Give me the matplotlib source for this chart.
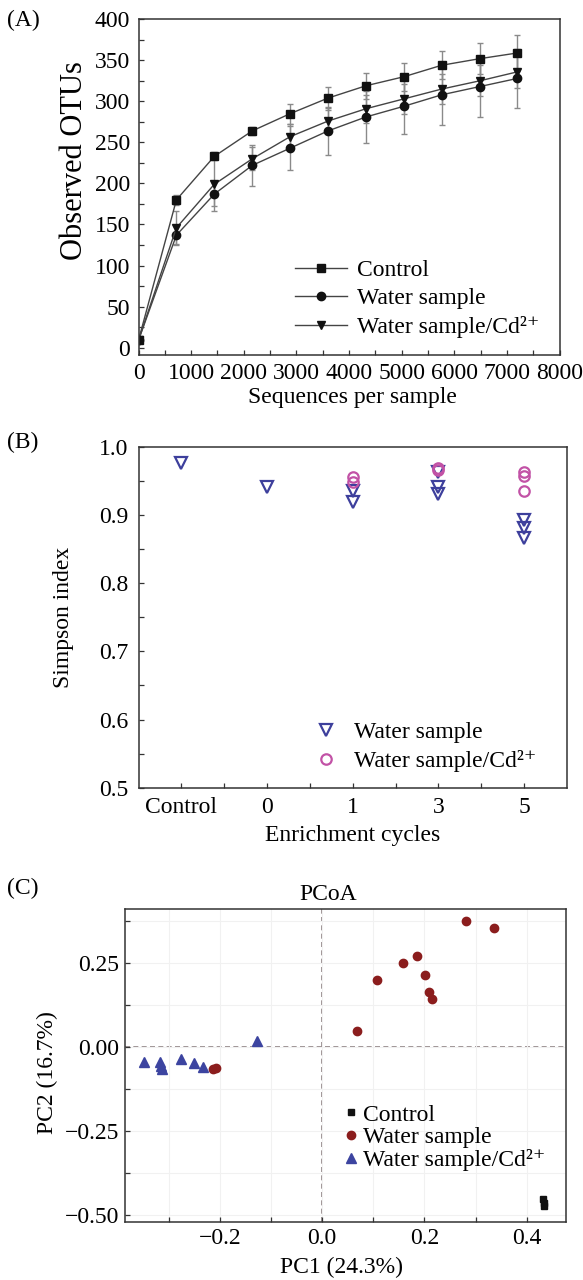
import matplotlib
matplotlib.use('Agg')
import matplotlib.pyplot as plt
import numpy as np
from matplotlib.ticker import MultipleLocator

plt.rcParams['font.family'] = ['Liberation Serif', 'DejaVu Serif']
plt.rcParams['font.size'] = 17

# ---- (A) rarefaction curves
seqs = [0, 720, 1440, 2160, 2880, 3600, 4320, 5040, 5760, 6480, 7200]
otu_control = [9, 180, 233, 264, 285, 304, 319, 330, 344, 352, 359]
otu_water = [9, 137, 187, 222, 243, 264, 281, 294, 308, 318, 328]
otu_cd = [9, 146, 199, 230, 257, 276, 291, 303, 315, 325, 336]
err_control = [2, 6, 5, 5, 12, 14, 16, 17, 17, 19, 22]
err_water = [2, 11, 15, 25, 27, 29, 32, 34, 37, 37, 36]
err_cd = [2, 21, 32, 14, 16, 16, 17, 18, 18, 19, 20]

# ---- (B) Simpson index
cycles = ['Control', '0', '1', '3', '5']
simp_water_pos = [0, 1, 2, 2, 3, 3, 3, 4, 4, 4]
simp_water = [0.977, 0.941, 0.936, 0.919, 0.964, 0.941, 0.931, 0.893, 0.881, 0.866]
simp_cd_pos = [2, 2, 3, 3, 4, 4, 4]
simp_cd = [0.956, 0.948, 0.969, 0.966, 0.963, 0.958, 0.936]

# ---- (C) PCoA
pc_control_x = [0.432, 0.433, 0.434]
pc_control_y = [-0.454, -0.463, -0.473]
pc_water_x = [0.281, 0.335, 0.186, 0.159, 0.107, 0.201, 0.208, 0.214, 0.069, -0.214, -0.208]
pc_water_y = [0.374, 0.354, 0.272, 0.251, 0.201, 0.213, 0.164, 0.144, 0.047, -0.066, -0.062]
pc_cd_x = [-0.347, -0.316, -0.314, -0.313, -0.275, -0.250, -0.232, -0.127]
pc_cd_y = [-0.044, -0.044, -0.056, -0.066, -0.037, -0.048, -0.060, 0.017]

sup = 'Water sample/Cd\u00b2\u207a'
W, H = 583, 1280
fig = plt.figure(figsize=(W / 100, H / 100), dpi=100)


def box(l, r, t, b):
    return [l / W, 1 - b / H, (r - l) / W, (b - t) / H]


def style(ax):
    for s in ax.spines.values():
        s.set_color('#333333')
        s.set_linewidth(1.1)
    ax.tick_params(which='both', direction='in', top=False, right=False,
                   length=3.5, width=0.9, color='#333333')


# ================= A
ax = fig.add_axes(box(138.5, 559.6, 19.3, 355))
style(ax)
ax.tick_params(which='both', pad=6)
for y, e, m, lab in [(otu_control, err_control, 's', 'Control'),
                     (otu_water, err_water, 'o', 'Water sample'),
                     (otu_cd, err_cd, 'v', sup)]:
    ax.errorbar(seqs, y, yerr=e, fmt='none', ecolor='#8a8a8a', elinewidth=1.0,
                capsize=2.5, zorder=1)
    ax.plot(seqs, y, color='#444444', lw=1.0, marker=m, ms=6, mfc='#111111',
            mec='#111111', label=lab, zorder=2)
ax.set_xlim(0, 8000)
ax.set_ylim(-9, 400)
ax.xaxis.set_major_locator(MultipleLocator(1000))
ax.xaxis.set_minor_locator(MultipleLocator(500))
ax.yaxis.set_major_locator(MultipleLocator(50))
ax.yaxis.set_minor_locator(MultipleLocator(25))
ax.set_xlabel('Sequences per sample')
ax.set_ylabel('Observed OTUs', fontsize=22)
ax.yaxis.label.set_va('center')
ax.xaxis.label.set_va('center')
ax.yaxis.set_label_coords(-0.153, 0.58)
ax.xaxis.set_label_coords(0.507, -0.128)
ax.legend(loc='upper left', bbox_to_anchor=(0.372, 0.284), frameon=False,
          handlelength=2.2, handletextpad=0.4, labelspacing=0.28,
          borderaxespad=0, borderpad=0)

# ================= B
ax = fig.add_axes(box(138.5, 567, 447, 787.7))
style(ax)
ax.tick_params(which='both', pad=7)
blue = '#3d3f9c'
pink = '#c252a6'
ax.plot(simp_water_pos, simp_water, ls='none', marker='v', ms=8, mfc='none',
        mec=blue, mew=1.6, label='Water sample')
ax.plot(simp_cd_pos, simp_cd, ls='none', marker='o', ms=7.5, mfc='none',
        mec=pink, mew=1.6, label=sup)
ax.set_xlim(-0.5, 4.5)
ax.set_ylim(0.5, 1.0)
ax.set_xticks(range(len(cycles)), labels=cycles)
ax.set_xticks([0.5, 1.5, 2.5, 3.5], minor=True)
ax.yaxis.set_major_locator(MultipleLocator(0.1))
ax.yaxis.set_minor_locator(MultipleLocator(0.05))
ax.yaxis.set_major_formatter(plt.FormatStrFormatter('%.1f'))
ax.set_xlabel('Enrichment cycles')
ax.set_ylabel('Simpson index')
ax.yaxis.label.set_va('center')
ax.xaxis.label.set_va('center')
ax.yaxis.set_label_coords(-0.176, 0.501)
ax.xaxis.set_label_coords(0.5, -0.139)
ax.legend(loc='upper left', bbox_to_anchor=(0.41, 0.195), frameon=False,
          handlelength=1.0, handletextpad=0.7, labelspacing=0.3,
          borderaxespad=0, borderpad=0)

# ================= C
ax = fig.add_axes(box(124.7, 566, 909, 1222))
style(ax)
ax.tick_params(which='both', pad=4)
ax.set_xlim(-0.3856, 0.4766)
ax.set_ylim(-0.521, 0.411)
ax.set_xticks([-0.2, 0.0, 0.2, 0.4], labels=['\u22120.2', '0.0', '0.2', '0.4'])
ax.set_xticks([-0.3, -0.1, 0.1, 0.3], minor=True)
ax.set_yticks([0.25, 0.0, -0.25, -0.5], labels=['0.25', '0.00', '\u22120.25', '\u22120.50'])
ax.set_yticks([0.375, 0.125, -0.125, -0.375], minor=True)
ax.grid(which='both', color='#f1f1f1', lw=0.8, zorder=0)
ax.axhline(0, color='#8c7f80', lw=1.2, ls=(0, (3, 2)), zorder=1)
ax.axvline(0, color='#8c7f80', lw=1.2, ls=(0, (3, 2)), zorder=1)
ax.plot(pc_control_x, pc_control_y, ls='none', marker='s', ms=5, color='#111111',
        label='Control', zorder=3)
ax.plot(pc_water_x, pc_water_y, ls='none', marker='o', ms=6, color='#8b1d1d',
        label='Water sample', zorder=3)
ax.plot(pc_cd_x, pc_cd_y, ls='none', marker='^', ms=6.5, color='#3c44a0',
        label=sup, zorder=3)
ax.set_xlabel('PC1 (24.3%)')
ax.set_ylabel('PC2 (16.7%)')
ax.yaxis.label.set_va('center')
ax.xaxis.label.set_va('center')
ax.yaxis.set_label_coords(-0.174, 0.476)
ax.xaxis.set_label_coords(0.492, -0.144)
ax.text(0.461, 1.045, 'PCoA', transform=ax.transAxes, ha='center', va='center')
ax.legend(loc='upper left', bbox_to_anchor=(0.5, 0.377), frameon=False,
          handlelength=0.5, handletextpad=0.25, labelspacing=0.05,
          borderaxespad=0, borderpad=0)

fig.text(7 / W, 1 - 20 / H, '(A)', ha='left', va='center')
fig.text(7 / W, 1 - 442 / H, '(B)', ha='left', va='center')
fig.text(7 / W, 1 - 888 / H, '(C)', ha='left', va='center')

fig.savefig('out.png', dpi=100)
